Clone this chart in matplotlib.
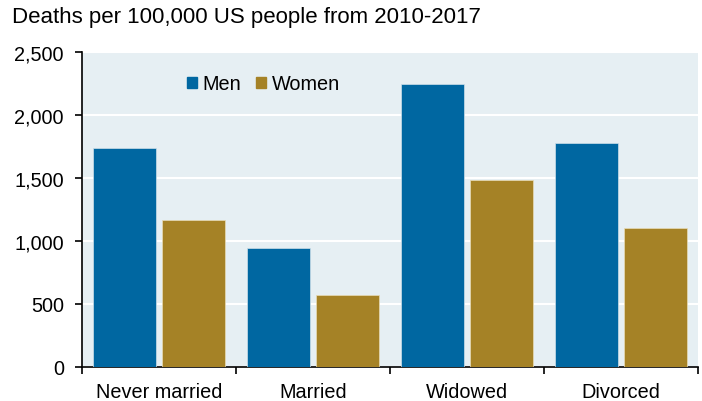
import matplotlib
matplotlib.use("Agg")
import matplotlib.pyplot as plt
import numpy as np
from matplotlib.patches import Patch
from matplotlib.ticker import FuncFormatter

plt.rcParams["font.family"] = ["Liberation Sans", "DejaVu Sans"]

categories = ["Never married", "Married", "Widowed", "Divorced"]
men = [1740, 945, 2245, 1775]
women = [1170, 572, 1485, 1100]
series_names = ["Men", "Women"]
y_ticks = [0, 500, 1000, 1500, 2000, 2500]
subtitle = "Deaths per 100,000 US people from 2010-2017"

blue = "#0067A1"
gold = "#A58226"
bg = "#E6EFF3"

fig = plt.figure(figsize=(7.02, 4.02), dpi=100)
ax = fig.add_axes([82 / 702, 34.3 / 402, 616 / 702, 314.4 / 402])
ax.set_facecolor(bg)

x = np.arange(len(categories))
w = 0.41
off = 0.225
ax.bar(x - off, men, width=w, color=blue, edgecolor="#cfe0ea", linewidth=0.5, zorder=3)
ax.bar(x + off, women, width=w, color=gold, edgecolor="#e8dcb8", linewidth=0.5, zorder=3)

ax.set_xlim(-0.5, len(categories) - 0.5)
ax.set_ylim(0, 2500)
ax.set_yticks(y_ticks)
ax.yaxis.set_major_formatter(FuncFormatter(lambda v, p: f"{int(v):,}"))
ax.grid(axis="y", color="white", linewidth=1.5, zorder=1)
ax.set_axisbelow(True)

ax.set_xticks(x)
ax.set_xticklabels(categories)
ax.set_xticks(np.arange(-0.5, len(categories)), minor=True)
ax.tick_params(axis="x", which="major", length=0, pad=11, labelsize=14.3)
ax.tick_params(axis="x", which="minor", length=5, width=1.2, direction="out")
ax.tick_params(axis="y", length=5, width=1.2, direction="out", pad=8, labelsize=14.3)

for s in ["top", "right"]:
    ax.spines[s].set_visible(False)
for s in ["left", "bottom"]:
    ax.spines[s].set_linewidth(1.2)
    ax.spines[s].set_color("black")

handles = [Patch(color=blue), Patch(color=gold)]
leg = fig.legend(handles, series_names, loc="center left",
                 bbox_to_anchor=(177 / 702, 1 - 85 / 402),
                 ncol=2, frameon=False, fontsize=14.3, borderpad=0,
                 handlelength=0.5, handleheight=0.5,
                 handletextpad=0.3, columnspacing=0.75)

fig.text(12 / 702, 1 - 18 / 402, subtitle, fontsize=16, va="center", ha="left")

fig.savefig("out.png", dpi=100)
